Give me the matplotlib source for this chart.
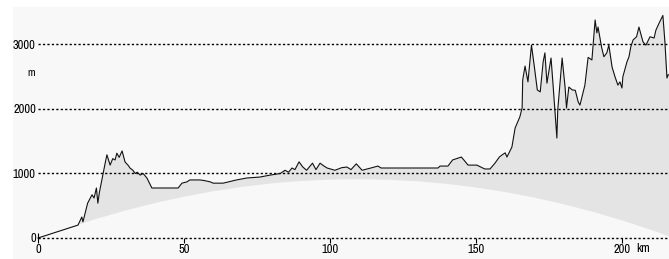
import matplotlib
matplotlib.use("Agg")
import matplotlib.pyplot as plt
from matplotlib.patches import Rectangle
from matplotlib import font_manager

# ---- data ----
profile_km = [0, 13.7, 15.0, 15.4, 17.0, 18.5, 19.2, 20.0, 20.5, 21.0, 22.3, 23.0, 23.6, 24.7,
              25.6, 26.4, 27.0, 27.8, 28.8, 29.8, 31.0, 31.5, 32.5, 33.3, 34.0, 35.0, 36.0,
              37.3, 39.0, 40.8, 48.0, 49.3, 51.0, 52.0, 55.5, 57.0, 59.0, 60.0, 63.4, 68.0,
              71.5, 76.0, 79.5, 83.0, 84.6, 85.8, 87.0, 88.0, 89.4, 90.7, 92.0, 94.0, 95.2,
              96.6, 97.8, 99.0, 101.7, 104.0, 105.8, 107.2, 109.0, 111.0, 114.0, 116.4,
              117.5, 124.0, 137.0, 137.7, 140.4, 142.0, 145.0, 147.3, 150.3, 153.0, 154.8,
              156.5, 158.0, 159.0, 160.0, 160.6, 162.3, 163.4, 165.0, 165.8, 166.0, 166.8,
              167.8, 169.0, 170.0, 171.0, 172.0, 173.0, 173.6, 174.3, 175.7, 176.4, 177.7,
              178.0, 179.5, 180.5, 181.0, 181.8, 183.0, 184.0, 185.0, 185.6, 187.3, 188.4,
              189.7, 190.8, 191.4, 191.8, 193.0, 193.8, 194.8, 195.5, 196.6, 197.6, 198.6,
              199.3, 200.0, 200.3, 201.7, 202.4, 203.0, 203.8, 205.0, 205.8, 207.2, 208.2,
              209.6, 211.0, 211.6, 212.7, 214.0, 214.7, 215.4, 215.8, 216.5]
profile_m = [0, 200, 325, 250, 540, 670, 620, 775, 540, 700, 1000, 1160, 1290, 1130,
             1230, 1210, 1315, 1250, 1350, 1180, 1120, 1085, 1050, 1000, 1020, 975, 1000,
             930, 775, 775, 775, 850, 870, 900, 900, 890, 870, 850, 850, 900,
             930, 945, 975, 1000, 1050, 1020, 1085, 1060, 1180, 1100, 1050, 1160, 1060,
             1160, 1120, 1085, 1050, 1090, 1100, 1060, 1150, 1050, 1085, 1115,
             1085, 1085, 1085, 1115, 1115, 1210, 1255, 1130, 1130, 1070, 1070,
             1160, 1255, 1290, 1320, 1255, 1410, 1705, 1875, 2015, 2450, 2665,
             2420, 2990, 2650, 2295, 2265, 2730, 2870, 2400, 2790, 2370, 1550,
             1985, 2790, 2340, 2015, 2340, 2295, 2290, 2110, 2060, 2370, 2800,
             2760, 3380, 3180, 3270, 2960, 2810, 2870, 2990, 2650, 2500, 2370,
             2420, 2325, 2500, 2730, 2810, 2960, 3070, 3120, 3270, 3040, 2990,
             3120, 3100, 3220, 3330, 3450, 3040, 2480, 2530, 2530]

# earth-curvature base line
curve_km = [0, 10, 20, 30, 40, 50, 60, 70, 80, 90, 100, 110, 120, 130, 140, 150, 160,
            170, 180, 190, 200, 210, 216, 218]
curve_m = [0, 161, 307, 437, 551, 650, 734, 802, 855, 892, 914, 920, 911, 886, 846, 790,
           719, 632, 530, 412, 279, 130, 33, 0]

y_ticks = [0, 1000, 2000, 3000]
y_labels = ["0", "1000", "2000", "3000"]
x_ticks = [0, 50, 100, 150, 200]
x_labels = ["0", "50", "100", "150", "200"]


def _is_regular(f):
    return f.style == "normal" and f.weight in (400, "normal", "regular")


# pick an upright, regular-weight narrow font if one is installed
narrow = None
cands = [f for f in font_manager.fontManager.ttflist
         if ("narrow" in f.name.lower() or "condensed" in f.name.lower()
             or "condensed" in str(f.stretch).lower()) and _is_regular(f)]
cands.sort(key=lambda f: (0 if "Liberation" in f.name else 1, f.name))
if cands:
    narrow = font_manager.FontProperties(fname=cands[0].fname)
else:
    narrow = font_manager.FontProperties(family="DejaVu Sans")

BG = "#f8f8f8"
FILL = "#e4e4e4"

W, H = 669, 259
fig = plt.figure(figsize=(W / 100, H / 100), dpi=100)
fig.patch.set_facecolor("white")
fig.patches.append(Rectangle((13 / W, 0), (W - 13) / W, (H - 7) / H,
                             transform=fig.transFigure, color=BG, zorder=-10))

ax = fig.add_axes([38 / W, (H - 238) / H, (W - 38) / W, 231 / H])
ax.set_facecolor("none")
for s in ax.spines.values():
    s.set_visible(False)
ax.set_xlim(0, 216.1)
ax.set_ylim(0, 3581)

ax.fill_between(profile_km, 0, profile_m, color=FILL, lw=0, zorder=1)
ax.fill_between(curve_km, 0, curve_m, color=BG, lw=0, zorder=2)

for yv in y_ticks:
    ax.axhline(yv, color="black", lw=1.0, ls=(0, (1.6, 1.6)), zorder=3, clip_on=False)

ax.plot(profile_km, profile_m, color="#111111", lw=0.8, zorder=4, clip_on=False)

ax.set_xticks(x_ticks)
ax.set_xticklabels(x_labels)
ax.set_yticks(y_ticks)
ax.set_yticklabels(y_labels)
ax.tick_params(axis="x", direction="inout", length=7, width=0.8, color="black", pad=0.5)
ax.tick_params(axis="y", length=0, pad=1.5)
for lab in ax.get_xticklabels() + ax.get_yticklabels():
    lab.set_fontproperties(narrow)
    lab.set_fontsize(9)

fig.text(636 / W, 1 - 249 / H, "km", ha="left", va="center", fontproperties=narrow, fontsize=9)
fig.text(31 / W, 1 - 73 / H, "m", ha="center", va="center", fontproperties=narrow, fontsize=8)

fig.savefig("out.png", dpi=100)
